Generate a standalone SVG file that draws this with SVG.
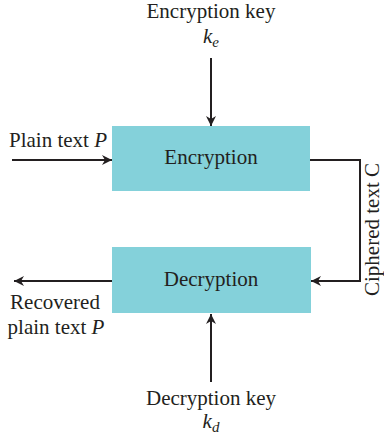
<svg xmlns="http://www.w3.org/2000/svg" width="384" height="439" viewBox="0 0 384 439">
<style>
text{font-family:"Liberation Serif",serif;font-size:21px;fill:#231f20}
.c{text-anchor:middle}
.i{font-style:italic}
.box{fill:#84d1da}
.ln{stroke:#231f20;stroke-width:2;fill:none}
</style>
<defs>
<marker id="ah" viewBox="0 0 10 10" refX="10" refY="5" markerWidth="10" markerHeight="10" markerUnits="userSpaceOnUse" orient="auto">
<path d="M0,0 L10,5 L0,10 L3,5 Z" fill="#231f20"/>
</marker>
</defs>
<g id="enc">
<rect class="box" x="112" y="126" width="198" height="65"/>
<text class="c" x="211" y="164">Encryption</text>
</g>
<g id="dec">
<rect class="box" x="112" y="247" width="199" height="66"/>
<text class="c" x="211" y="286">Decryption</text>
</g>
<g id="enckey">
<text class="c" x="211" y="18">Encryption key</text>
<text class="c i" x="211" y="43">k<tspan font-size="15" dy="4">e</tspan></text>
</g>
<g id="plain">
<text x="9" y="147">Plain text <tspan class="i">P</tspan></text>
</g>
<g id="recovered">
<text class="c" x="55" y="309">Recovered</text>
<text class="c" x="56" y="334">plain text <tspan class="i">P</tspan></text>
</g>
<g id="deckey">
<text class="c" x="211" y="405">Decryption key</text>
<text class="c i" x="211" y="428">k<tspan font-size="15" dy="4">d</tspan></text>
</g>
<g id="cipher">
<text transform="translate(379,296) rotate(-90)">Ciphered text C</text>
</g>
<g id="connectors">
<path class="ln" d="M211,58 V126" marker-end="url(#ah)"/>
<path class="ln" d="M12,160 H112" marker-end="url(#ah)"/>
<path class="ln" d="M310,160 H360 V281 H311" marker-end="url(#ah)"/>
<path class="ln" d="M112,281 H14" marker-end="url(#ah)"/>
<path class="ln" d="M211,382 V314" marker-end="url(#ah)"/>
</g>
</svg>
